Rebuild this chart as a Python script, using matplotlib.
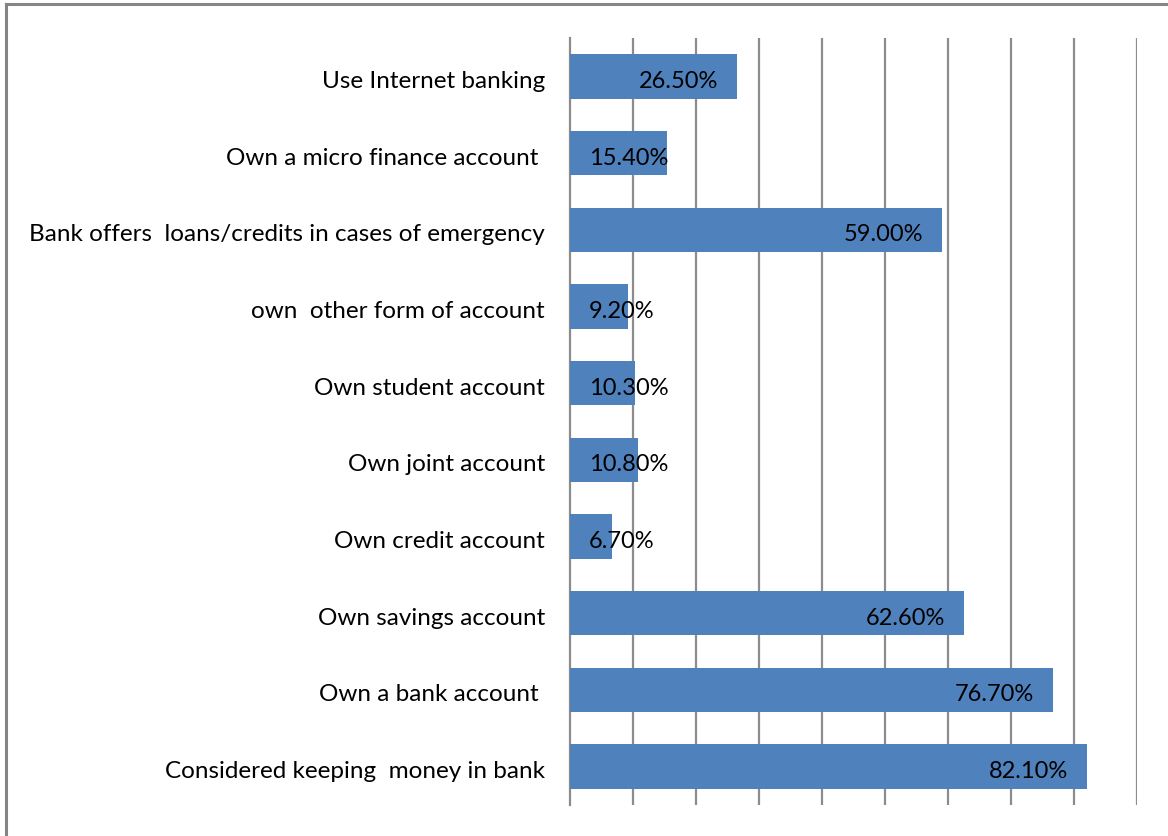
import matplotlib.pyplot as plt
import matplotlib.transforms as mtransforms
from matplotlib.lines import Line2D

categories = [
    "Considered keeping  money in bank",
    "Own a bank account ",
    "Own savings account",
    "Own credit account",
    "Own joint account",
    "Own student account",
    "own  other form of account",
    "Bank offers  loans/credits in cases of emergency",
    "Own a micro finance account ",
    "Use Internet banking",
]
percentages = [82.1, 76.7, 62.6, 6.7, 10.8, 10.3, 9.2, 59.0, 15.4, 26.5]
value_labels = ["82.10%", "76.70%", "62.60%", "6.70%", "10.80%",
                "10.30%", "9.20%", "59.00%", "15.40%", "26.50%"]

plt.rcParams['font.family'] = ['Lato', 'DejaVu Sans']

fig = plt.figure(figsize=(11.68, 8.36), dpi=100)
ax = fig.add_axes([570 / 1168, 1 - 805 / 836, 567 / 1168, 767 / 836])

grid_col = '#8c8c8c'
ypos = range(len(categories))
ax.barh(ypos, percentages, height=0.58, color='#4f81bd', zorder=3)

# text sits a touch below the bar centre
nudge = mtransforms.ScaledTranslation(0, -3 / 100, fig.dpi_scale_trans)

# labels sit inside the bar end, or start at the left when the bar is too short
for y, v, lab in zip(ypos, percentages, value_labels):
    if v < 18:
        t = ax.text(3.0, y, lab, ha='left', va='center_baseline', fontsize=17, zorder=4)
    else:
        t = ax.text(v - 3.0, y, lab, ha='right', va='center_baseline', fontsize=17, zorder=4)
    t.set_transform(ax.transData + nudge)

ax.set_xlim(0, 90)
ax.set_ylim(-0.5, len(categories) - 0.5)
ax.set_xticks(range(10, 91, 10))
ax.xaxis.grid(True, color=grid_col, linewidth=1.6, zorder=1)
ax.tick_params(axis='x', length=0, labelbottom=False)
ax.set_yticks(list(ypos))
ax.set_yticklabels(categories, fontsize=17.5, va='center_baseline')
ax.tick_params(axis='y', length=0, pad=18)
for lbl in ax.get_yticklabels():
    lbl.set_transform(lbl.get_transform() + nudge)
for side in ['top', 'right', 'bottom']:
    ax.spines[side].set_visible(False)
ax.spines['left'].set_color(grid_col)
ax.spines['left'].set_linewidth(1.6)

# frame edges along top and left of the figure
fig.add_artist(Line2D([6 / 1168, 1], [1 - 4 / 836, 1 - 4 / 836], color='#858585', linewidth=2.2))
fig.add_artist(Line2D([6 / 1168, 6 / 1168], [0, 1 - 4 / 836], color='#858585', linewidth=2.2))

fig.savefig('out.png', dpi=100)
